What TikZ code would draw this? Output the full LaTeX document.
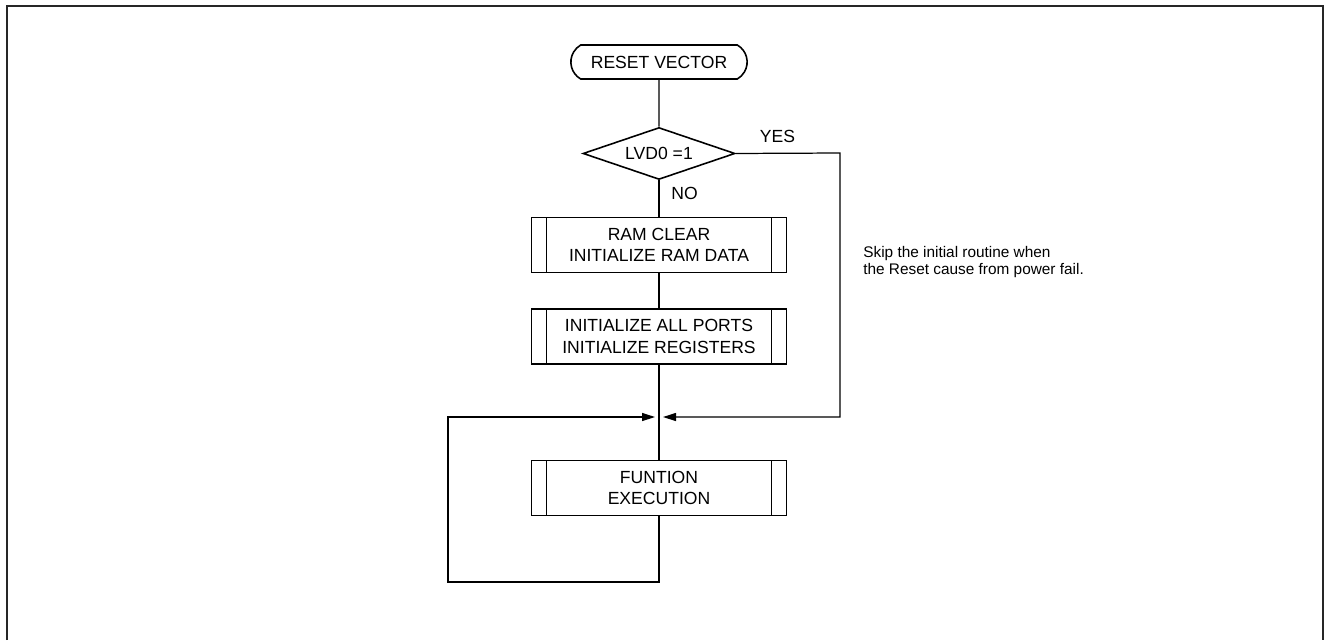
\documentclass[tikz,border=0pt]{standalone}
\usepackage{fontspec}
\setmainfont{Liberation Sans}
\usetikzlibrary{shapes.geometric, shapes.misc, arrows.meta, positioning}
\tikzstyle{terminal} = [rounded rectangle, rounded rectangle arc length=120, minimum width=3.76cm, minimum height=0.68cm, text centered, draw=black, line width=0.9pt]
\tikzstyle{decision} = [diamond, aspect=3, minimum width=3.04cm, minimum height=1.04cm, inner sep=0pt, text centered, draw=black, line width=0.9pt]
\tikzstyle{subroutine} = [rectangle, minimum width=5.1cm, minimum height=1.1cm, text centered, align=center, draw=black, line width=0.9pt,
  path picture={\draw[line width=0.9pt] ([xshift=0.3cm]path picture bounding box.north west) -- ([xshift=0.3cm]path picture bounding box.south west);
                \draw[line width=0.9pt] ([xshift=-0.3cm]path picture bounding box.north east) -- ([xshift=-0.3cm]path picture bounding box.south east);}]
\tikzstyle{flow} = [line width=0.7pt]
\tikzstyle{arrow} = [line width=0.7pt, -{Triangle[length=0.26cm, width=0.16cm]}]

\begin{document}
\begin{tikzpicture}[x=0.02cm, y=-0.02cm, node distance=1.83cm, font=\fontsize{10pt}{12pt}\selectfont]

\useasboundingbox (0,0) rectangle (1324,640);
\draw[line width=0.6pt, black!85] (7,640) -- (7,6) -- (1323,6) -- (1323,640);

\node (reset) [terminal] at (659,62) {RESET VECTOR};
\node (lvd) [decision, below of=reset] {LVD0 =1};
\node (ramclear) [subroutine, below of=lvd] {RAM CLEAR\\INITIALIZE RAM DATA};
\node (initports) [subroutine, below of=ramclear] {INITIALIZE ALL PORTS\\INITIALIZE REGISTERS};
\node (funexec) [subroutine, below of=initports, node distance=3.03cm] {FUNTION\\EXECUTION};

\node (note) [anchor=west, align=left, inner sep=0pt, font=\fontsize{8.75pt}{9.5pt}\selectfont] at (863,262) {Skip the initial routine when\\the Reset cause from power fail.};

\coordinate (join) at (659,417);
\coordinate (yesturn) at (840,153);
\coordinate (loopturn) at (448,582);

\draw [flow] (reset) -- (lvd);
\draw [flow] (lvd) -- node[right=0.12cm, pos=0.37] {NO} (ramclear);
\draw [flow] (ramclear) -- (initports);
\draw [flow] (initports) -- (funexec);
\draw [arrow] (lvd.east) -- node[above=0.08cm, pos=0.4] {YES} (yesturn) |- ([xshift=0.08cm]join);
\draw [arrow] (funexec.south) |- (loopturn) |- ([xshift=-0.08cm]join);

\end{tikzpicture}
\end{document}
